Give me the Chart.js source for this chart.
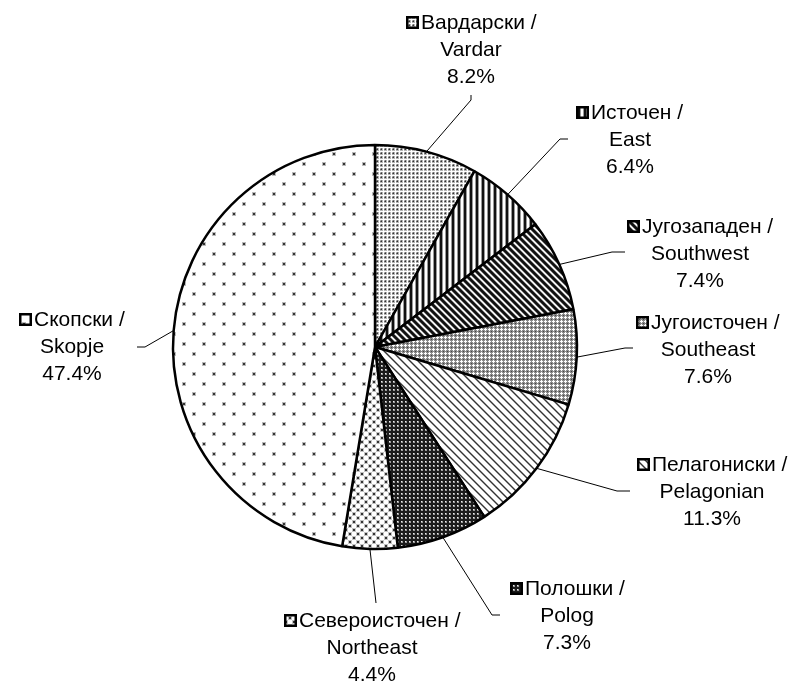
<!DOCTYPE html>
<html><head><meta charset="utf-8">
<script src="https://cdn.jsdelivr.net/npm/chart.js@4"></script>
<style>html,body{margin:0;padding:0;background:#fff}</style>
</head><body>
<canvas id="c" width="797" height="682"></canvas>
<script>
const namesMk = ['Вардарски','Источен','Југозападен','Југоисточен','Пелагониски','Полошки','Североисточен','Скопски'];
const namesEn = ['Vardar','East','Southwest','Southeast','Pelagonian','Polog','Northeast','Skopje'];
const shares = [8.2, 6.4, 7.4, 7.6, 11.3, 7.3, 4.4, 47.4];

const canvas = document.getElementById('c');
const ctx = canvas.getContext('2d');

function tile(w, h, draw) {
  const c = document.createElement('canvas');
  c.width = w; c.height = h;
  const g = c.getContext('2d');
  draw(g, w, h);
  return ctx.createPattern(c, 'repeat');
}
function dot(g, x, y, halo, core) {
  g.fillStyle = halo; g.fillRect(x - 1, y - 1, 4, 4);
  g.fillStyle = core; g.fillRect(x, y, 2, 2);
}
function diag(g, w, cols) {
  for (let x = 0; x < w; x++) for (let y = 0; y < w; y++) {
    g.fillStyle = cols[((x - y) % w + w) % w];
    g.fillRect(x, y, 1, 1);
  }
}
const patterns = [
  // Vardar: dense gray dots
  tile(4, 4, g => { g.fillStyle = '#fff'; g.fillRect(0, 0, 4, 4);
    g.fillStyle = '#b5b5b5'; g.fillRect(0, 0, 3, 3); g.fillStyle = '#333'; g.fillRect(1, 1, 1, 1);
    g.fillStyle = '#707070'; g.fillRect(0, 1, 1, 1); g.fillRect(1, 0, 1, 1); }),
  // East: vertical stripes
  tile(6, 1, g => { g.fillStyle = '#fff'; g.fillRect(0, 0, 6, 1);
    g.fillStyle = '#999'; g.fillRect(1, 0, 1, 1); g.fillRect(4, 0, 1, 1);
    g.fillStyle = '#111'; g.fillRect(2, 0, 2, 1); }),
  // Southwest: dark wide diagonal stripes
  tile(7, 7, g => diag(g, 7, ['#666', '#111', '#111', '#111', '#777', '#f4f4f4', '#f4f4f4'])),
  // Southeast: gray with white dots
  tile(4, 4, g => { g.fillStyle = '#8a8a8a'; g.fillRect(0, 0, 4, 4);
    g.fillStyle = '#fff'; g.fillRect(1, 0, 1, 3); g.fillRect(0, 1, 3, 1);
    g.fillStyle = '#444'; g.fillRect(3, 3, 1, 1); }),
  // Pelagonian: light diagonal stripes
  tile(8, 8, g => diag(g, 8, ['#999', '#333', '#999', '#fff', '#fff', '#fff', '#fff', '#fff'])),
  // Polog: dark with light dots
  tile(4, 4, g => { g.fillStyle = '#1c1c1c'; g.fillRect(0, 0, 4, 4);
    g.fillStyle = '#9a9a9a'; g.fillRect(1, 1, 2, 2); g.fillStyle = '#eee'; g.fillRect(1, 1, 1, 1); }),
  // Northeast: medium dots
  tile(8, 8, g => { g.fillStyle = '#fff'; g.fillRect(0, 0, 8, 8);
    dot(g, 1, 1, '#c4c4c4', '#333'); dot(g, 5, 5, '#c4c4c4', '#333'); }),
  // Skopje: sparse dots
  tile(20, 20, g => { g.fillStyle = '#fff'; g.fillRect(0, 0, 20, 20);
    dot(g, 3, 3, '#bbb', '#333'); dot(g, 13, 13, '#bbb', '#333'); })
];

// label block layout: centre x, first line y, leader elbow, leader end
const labelLayout = [
  { cx: 471, y: 22, elbow: [471, 100], end: [471, 95] },
  { cx: 630, y: 112, elbow: [560, 139], end: [568, 139] },
  { cx: 700, y: 226, elbow: [612, 252], end: [625, 252] },
  { cx: 708, y: 322, elbow: [625, 348], end: [633, 348] },
  { cx: 712, y: 464, elbow: [617, 491], end: [630, 491] },
  { cx: 567, y: 588, elbow: [492, 615], end: [500, 615] },
  { cx: 372, y: 620, elbow: [376, 603], end: [376, 603] },
  { cx: 72, y: 319, elbow: [145, 347], end: [137, 347] }
];
const FONT = '21px "Liberation Sans", Arial, sans-serif';
const LINE = 27;

const labelPlugin = {
  id: 'pieLabels',
  afterDraw(chart) {
    const c = chart.ctx;
    const meta = chart.getDatasetMeta(0);
    c.save();
    meta.data.forEach((arc, i) => {
      const p = arc.getProps(['x', 'y', 'startAngle', 'endAngle', 'outerRadius'], true);
      const mid = (p.startAngle + p.endAngle) / 2;
      const px = p.x + Math.cos(mid) * p.outerRadius;
      const py = p.y + Math.sin(mid) * p.outerRadius;
      const L = labelLayout[i];
      c.strokeStyle = '#000'; c.lineWidth = 1;
      c.beginPath(); c.moveTo(px, py); c.lineTo(L.elbow[0], L.elbow[1]); c.lineTo(L.end[0], L.end[1]); c.stroke();

      c.font = FONT; c.fillStyle = '#000'; c.textBaseline = 'middle';
      const t1 = namesMk[i] + ' /';
      const mk = 13, gap = 2;
      const w1 = mk + gap + c.measureText(t1).width;
      const sx = Math.round(L.cx - w1 / 2);
      c.fillStyle = chart.data.datasets[0].backgroundColor[i];
      c.fillRect(sx, L.y - 6, mk, mk);
      c.lineWidth = 2.5; c.strokeStyle = '#000';
      c.strokeRect(sx + 1.25, L.y - 4.75, mk - 2.5, mk - 2.5);
      c.fillStyle = '#000'; c.textAlign = 'left';
      c.fillText(t1, sx + mk + gap, L.y + 1);
      c.textAlign = 'center';
      c.fillText(namesEn[i], L.cx, L.y + LINE + 1);
      c.fillText(shares[i].toFixed(1) + '%', L.cx, L.y + 2 * LINE + 1);
    });
    c.restore();
  }
};

new Chart(ctx, {
  type: 'pie',
  data: {
    labels: namesEn,
    datasets: [{ data: shares, backgroundColor: patterns, borderColor: '#000', borderWidth: 2.5 }]
  },
  options: {
    responsive: false,
    devicePixelRatio: 1,
    animation: false,
    radius: 202,
    layout: { padding: { left: 173, right: 220, top: 145, bottom: 133 } },
    plugins: { legend: { display: false }, tooltip: { enabled: false } }
  },
  plugins: [labelPlugin]
});
</script>
</body></html>
